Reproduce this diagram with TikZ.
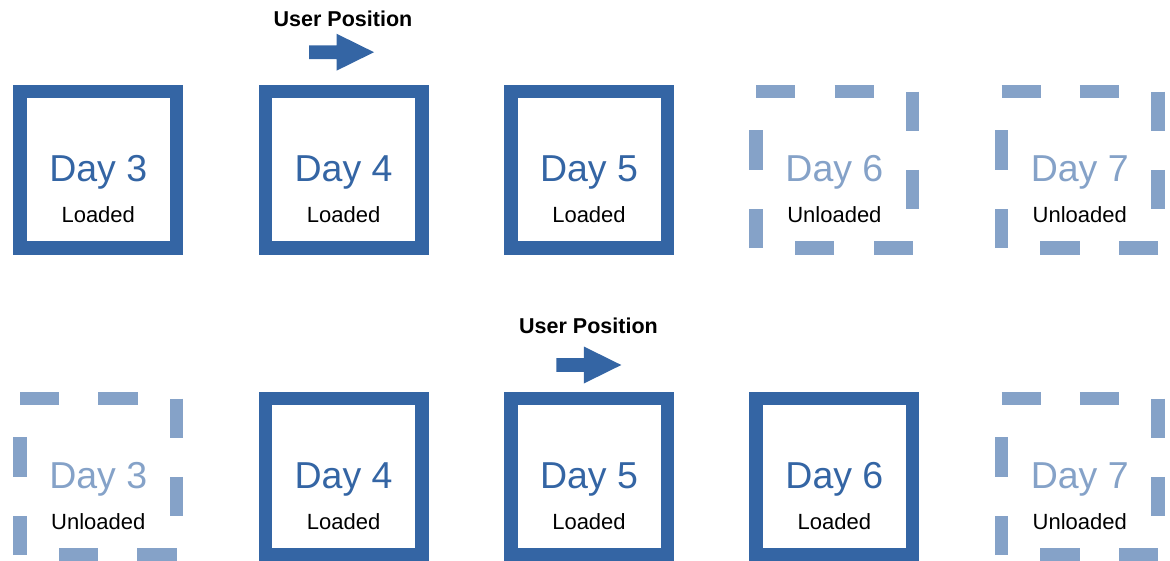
\documentclass[tikz,border=0pt]{standalone}
\usepackage{fontspec}
\setmainfont{Liberation Sans}
\definecolor{dayblue}{HTML}{3465A4}
\definecolor{lightblue}{HTML}{85A2C8}
\tikzset{
  box/.style={minimum width=156.5pt, minimum height=156.5pt, inner sep=0pt, outer sep=0pt},
  loadedborder/.style={draw=dayblue, line width=13.5pt, line join=miter},
  unloadedborder/.style={draw=lightblue, line width=13.5pt, line cap=butt, dash pattern=on 39.125pt off 39.3pt},
  loadedday/.style={font=\fontsize{37.5}{37.5}\selectfont, anchor=base, text=dayblue, inner sep=0pt},
  unloadedday/.style={font=\fontsize{37.5}{37.5}\selectfont, anchor=base, text=lightblue, inner sep=0pt},
  statetext/.style={font=\fontsize{22}{22}\selectfont, anchor=base, text=black, inner sep=0pt},
  usertext/.style={font=\bfseries\fontsize{21.5}{21.5}\selectfont, anchor=base, text=black, inner sep=0pt},
  posarrow/.style={fill=dayblue, draw=none},
}
\begin{document}
\begin{tikzpicture}[x=1pt,y=-1pt]
\useasboundingbox (0,0) rectangle (1170,560);
% solid (loaded) boxes
\foreach \n/\cx/\cy/\d in {
  a3/98.25/169.75/3, a4/343.6/169.75/4, a5/589/169.75/5,
  b4/343.6/476.75/4, b5/589/476.75/5, b6/834.4/476.75/6}{
  \node[box] (\n) at (\cx,\cy) {};
  \draw[loadedborder] (\n.north west) -- (\n.north east) -- (\n.south east) -- (\n.south west) -- cycle;
  \node[loadedday] (\n-day) at ([yshift=-12pt]\n.center) {Day \d};
  \node[statetext] (\n-state) at ([yshift=-53pt]\n.center) {Loaded};
}
% dashed (unloaded) boxes
\foreach \n/\cx/\cy/\d in {
  a6/834.4/169.75/6, a7/1079.75/169.75/7,
  b3/98.25/476.75/3, b7/1079.75/476.75/7}{
  \node[box] (\n) at (\cx,\cy) {};
  \draw[unloadedborder] (\n.north west) -- (\n.north east);
  \draw[unloadedborder] (\n.north east) -- (\n.south east);
  \draw[unloadedborder] (\n.south east) -- (\n.south west);
  \draw[unloadedborder] (\n.south west) -- (\n.north west);
  \node[unloadedday] (\n-day) at ([yshift=-12pt]\n.center) {Day \d};
  \node[statetext] (\n-state) at ([yshift=-53pt]\n.center) {Unloaded};
}
% user position markers
\node[usertext] (up1) at (343,26) {User Position};
\node[usertext] (up2) at (588.5,333) {User Position};
\coordinate (arr1) at (341.5,52.2);
\coordinate (arr2) at (588.8,365);
\foreach \a in {arr1,arr2}{
  \begin{scope}[shift={(\a)}]
    \fill[posarrow] (-32.5,-6.85) -- (-5,-6.85) -- (-5,-18.5) -- (32.5,0) -- (-5,18.5) -- (-5,6.85) -- (-32.5,6.85) -- cycle;
  \end{scope}
}
\end{tikzpicture}
\end{document}
